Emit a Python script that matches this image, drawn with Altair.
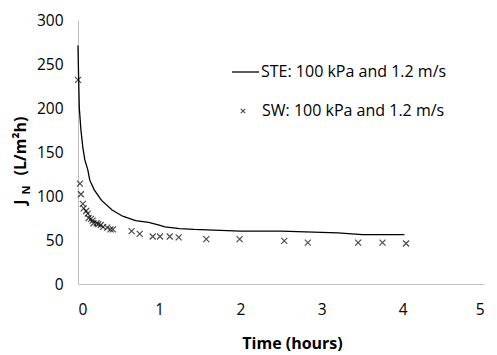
import altair as alt
import pandas as pd

# STE: 100 kPa and 1.2 m/s (line)
ste_t = [0, 0.008, 0.016, 0.036, 0.06, 0.084, 0.12, 0.145, 0.2, 0.29, 0.42, 0.55, 0.71, 0.87,
         1.0, 1.07, 1.25, 1.43, 2.0, 2.5, 2.9, 3.2, 3.5, 4.02]
ste_v = [271, 232, 200, 175, 155, 141, 130, 118, 107, 95, 84, 77, 72, 70,
         67, 65, 63, 62, 60, 60, 59, 58, 56, 56]

# SW: 100 kPa and 1.2 m/s (crosses)
sw_t = [0, 0.024, 0.036, 0.06, 0.07, 0.1, 0.12, 0.13, 0.16, 0.18, 0.19, 0.23, 0.25, 0.28,
        0.31, 0.36, 0.40, 0.43, 0.66, 0.76, 0.92, 1.01, 1.13, 1.24, 1.58, 1.99, 2.54,
        2.83, 3.45, 3.75, 4.04]
sw_v = [232, 114, 102, 91, 86, 83, 80, 75, 74, 72, 69, 69, 68, 67,
        65, 64, 62, 62, 60, 57, 54, 54, 54, 53, 51, 51, 49,
        47, 47, 47, 46]

x_ticks = [0, 1, 2, 3, 4, 5]
y_ticks = [0, 50, 100, 150, 200, 250, 300]
legend_labels = ["STE: 100 kPa and 1.2 m/s", "SW: 100 kPa and 1.2 m/s"]

FONT = "Open Sans"
CROSS = "M-1,-1L1,1M-1,1L1,-1"

ste = pd.DataFrame({"t": ste_t, "v": ste_v})
sw = pd.DataFrame({"t": sw_t, "v": sw_v})

xenc = alt.X("t:Q", scale=alt.Scale(domain=[0, 5], nice=False),
             axis=alt.Axis(values=x_ticks, title="Time (hours)", labelPadding=18,
                           titlePadding=18, titleX=214))
yenc = alt.Y("v:Q", scale=alt.Scale(domain=[0, 300], nice=False),
             axis=alt.Axis(values=y_ticks, title=None, labelPadding=15))

line = alt.Chart(ste).mark_line(color="black", strokeWidth=1.3).encode(x=xenc, y=yenc)
pts = alt.Chart(sw).mark_point(shape=CROSS, size=36, color="black", strokeWidth=1.2,
                               filled=False).encode(x=xenc, y=yenc)

# legend
leg_line = alt.Chart(pd.DataFrame({"a": [0]})).mark_rule(color="black", strokeWidth=1.3).encode(
    x=alt.value(154), x2=alt.value(181), y=alt.value(52))
leg_pt = alt.Chart(pd.DataFrame({"a": [0]})).mark_point(
    shape=CROSS, size=20, color="black", strokeWidth=1.1, filled=False).encode(
    x=alt.value(165), y=alt.value(91))
leg_t1 = alt.Chart(pd.DataFrame({"label": [legend_labels[0]]})).mark_text(
    align="left", baseline="middle", font=FONT, fontSize=16, color="black").encode(
    x=alt.value(183), y=alt.value(52), text="label:N")
leg_t2 = alt.Chart(pd.DataFrame({"label": [legend_labels[1]]})).mark_text(
    align="left", baseline="middle", font=FONT, fontSize=16, color="black").encode(
    x=alt.value(184), y=alt.value(91), text="label:N")

# y axis title with subscript
yt_j = alt.Chart(pd.DataFrame({"label": ["J"]})).mark_text(
    angle=270, align="center", baseline="middle", font=FONT, fontSize=16,
    fontWeight="bold", color="black").encode(x=alt.value(-57), y=alt.value(182), text="label:N")
yt_n = alt.Chart(pd.DataFrame({"label": ["N"]})).mark_text(
    angle=270, align="center", baseline="middle", font=FONT, fontSize=11,
    fontWeight="bold", color="black").encode(x=alt.value(-51), y=alt.value(170), text="label:N")
yt_u = alt.Chart(pd.DataFrame({"label": ["(L/m²h)"]})).mark_text(
    angle=270, align="center", baseline="middle", font=FONT, fontSize=16,
    fontWeight="bold", color="black").encode(x=alt.value(-57), y=alt.value(126), text="label:N")

chart = alt.layer(line, pts, leg_line, leg_pt, leg_t1, leg_t2, yt_j, yt_n, yt_u).properties(
    width=406, height=264,
    padding={"left": 70, "top": 12, "right": 5, "bottom": 72},
    autosize=alt.AutoSizeParams(type="none"),
).configure_view(stroke=None).configure_axis(
    grid=False, ticks=False, tickSize=0, domainColor="#bfbfbf", domainWidth=1,
    labelFont=FONT, labelFontSize=15.5, labelColor="black",
    titleFont=FONT, titleFontSize=16, titleFontWeight="bold", titleColor="black",
)

chart.save("out.html", embed_options={"renderer": "svg", "actions": False})
